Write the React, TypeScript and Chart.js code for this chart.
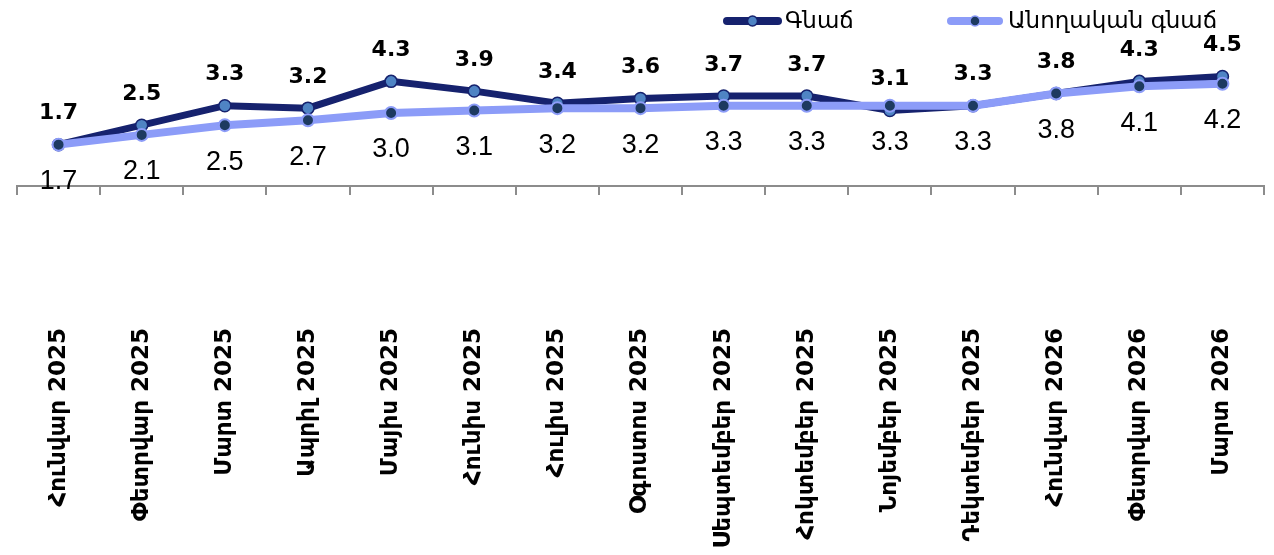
import React, { useEffect, useRef } from "react";
import { Chart, registerables } from "chart.js";

Chart.register(...registerables);

const categories = [
  "Հունվար 2025",
  "Փետրվար 2025",
  "Մարտ 2025",
  "Ապրիլ 2025",
  "Մայիս 2025",
  "Հունիս 2025",
  "Հուլիս 2025",
  "Օգոստոս 2025",
  "Սեպտեմբեր 2025",
  "Հոկտեմբեր 2025",
  "Նոյեմբեր 2025",
  "Դեկտեմբեր 2025",
  "Հունվար 2026",
  "Փետրվար 2026",
  "Մարտ 2026",
];
const inflation = [1.7, 2.5, 3.3, 3.2, 4.3, 3.9, 3.4, 3.6, 3.7, 3.7, 3.1, 3.3, 3.8, 4.3, 4.5];
const coreInflation = [1.7, 2.1, 2.5, 2.7, 3.0, 3.1, 3.2, 3.2, 3.3, 3.3, 3.3, 3.3, 3.8, 4.1, 4.2];
const seriesNames = ["Գնաճ", "Անողական գնաճ"];

const NAVY = "#16226e";
const NAVY_MARK = "#4f84c4";
const LIGHT = "#8c9cf8";
const LIGHT_MARK = "#1d3a60";

const pointLabelPlugin = {
  id: "pointLabels",
  afterDatasetsDraw(chart: any) {
    const ctx = chart.ctx;
    ctx.save();
    ctx.textAlign = "center";
    ctx.textBaseline = "middle";
    ctx.fillStyle = "#000";
    chart.data.datasets.forEach((ds: any, di: number) => {
      const meta = chart.getDatasetMeta(di);
      meta.data.forEach((pt: any, i: number) => {
        const text = Number(ds.data[i]).toFixed(1);
        if (di === 0) {
          ctx.font = "bold 22px 'DejaVu Sans'";
          ctx.fillText(text, pt.x, pt.y - 31);
        } else {
          ctx.font = "27px 'Liberation Sans Narrow', 'Liberation Sans'";
          ctx.fillText(text, pt.x, pt.y + 37);
        }
      });
    });
    ctx.restore();
  },
};

const legendPlugin = {
  id: "lineLegend",
  afterDraw(chart: any) {
    const ctx = chart.ctx;
    const layout = [
      { x0: 723, x1: 782, tx: 785 },
      { x0: 947, x1: 1003, tx: 1008 },
    ];
    ctx.save();
    chart.data.datasets.forEach((ds: any, i: number) => {
      const l = layout[i];
      const y = 21;
      ctx.strokeStyle = ds.borderColor;
      ctx.lineWidth = 8;
      ctx.lineCap = "round";
      ctx.beginPath();
      ctx.moveTo(l.x0 + 4, y);
      ctx.lineTo(l.x1 - 4, y);
      ctx.stroke();
      ctx.beginPath();
      ctx.arc((l.x0 + l.x1) / 2, y, 5, 0, Math.PI * 2);
      ctx.fillStyle = ds.pointBackgroundColor;
      ctx.fill();
      ctx.lineWidth = 1.5;
      ctx.strokeStyle = ds.pointBorderColor;
      ctx.stroke();
      ctx.fillStyle = "#000";
      ctx.font = "23px 'DejaVu Sans'";
      ctx.textAlign = "left";
      ctx.textBaseline = "alphabetic";
      ctx.fillText(ds.label, l.tx, 28);
    });
    ctx.restore();
  },
};

export default function App() {
  const ref = useRef<HTMLCanvasElement | null>(null);

  useEffect(() => {
    document.body.style.margin = "0";
    if (!ref.current) return;
    const chart = new Chart(ref.current, {
      type: "line",
      data: {
        labels: categories,
        datasets: [
          {
            label: seriesNames[0],
            data: inflation,
            borderColor: NAVY,
            borderWidth: 7,
            pointBackgroundColor: NAVY_MARK,
            pointBorderColor: NAVY,
            pointBorderWidth: 1.5,
            pointRadius: 6,
            tension: 0,
            order: 1,
          },
          {
            label: seriesNames[1],
            data: coreInflation,
            borderColor: LIGHT,
            borderWidth: 8,
            pointBackgroundColor: LIGHT_MARK,
            pointBorderColor: LIGHT,
            pointBorderWidth: 2,
            pointRadius: 6,
            tension: 0,
            order: 0,
          },
        ],
      },
      options: {
        responsive: false,
        animation: false,
        devicePixelRatio: 1,
        layout: { padding: { top: 40, left: 17, right: 10, bottom: 0 } },
        plugins: {
          legend: { display: false },
          tooltip: { enabled: false },
        },
        scales: {
          x: {
            offset: true,
            grid: {
              offset: true,
              drawOnChartArea: false,
              drawTicks: true,
              tickLength: 9,
              color: "#8c8c8c",
              lineWidth: 2,
            },
            border: { display: true, color: "#8c8c8c", width: 2 },
            ticks: {
              autoSkip: false,
              minRotation: 90,
              maxRotation: 90,
              padding: 133,
              color: "#000",
              font: { family: "'DejaVu Sans'", size: 23, weight: "bold" },
            },
            afterFit: (scale: any) => {
              scale.height = 369;
              scale.paddingLeft = 0;
              scale.paddingRight = 0;
            },
          },
          y: { display: false, min: 0, max: 6 },
        },
      },
      plugins: [pointLabelPlugin, legendPlugin],
    });
    return () => chart.destroy();
  }, []);

  return <canvas ref={ref} width={1274} height={555} style={{ display: "block" }} />;
}
